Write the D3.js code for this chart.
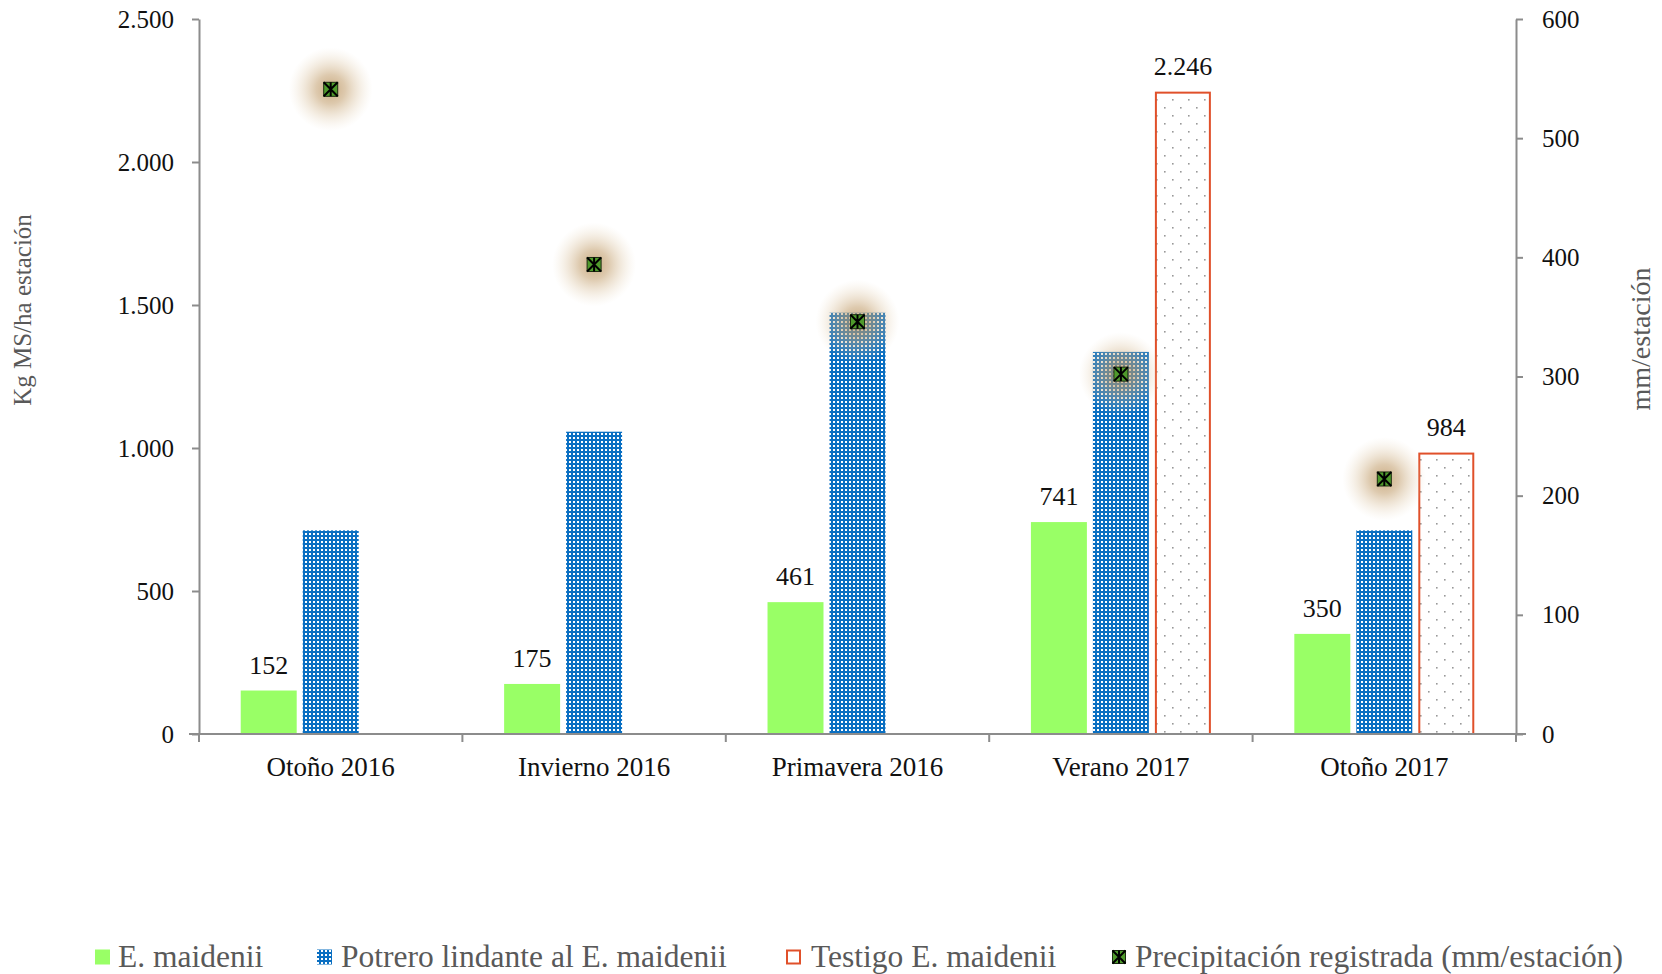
<!DOCTYPE html>
<html>
<head>
<meta charset="utf-8">
<script src="https://cdn.jsdelivr.net/npm/d3@7"></script>
<style>
  html, body { margin: 0; padding: 0; background: #fff; }
  svg { display: block; font-family: "Liberation Serif", "DejaVu Serif", serif; font-variant-numeric: oldstyle-nums; }
</style>
</head>
<body>
<svg id="chart" width="1662" height="974"></svg>
<script>
// Seasons on the x axis
const categories = ["Otoño 2016", "Invierno 2016", "Primavera 2016", "Verano 2017", "Otoño 2017"];
// Forage production (Kg MS/ha per season)
const maidenii = [152, 175, 461, 741, 350];
const potrero = [712, 1057, 1473, 1336, 712];
const testigo = [null, null, null, 2246, 984];
// Rainfall per season (mm), right axis
const precipitacion = [541, 394, 346, 302, 214];
// Axis ticks
const leftTicks = [0, 500, 1000, 1500, 2000, 2500];
const rightTicks = [0, 100, 200, 300, 400, 500, 600];
const seriesNames = ["E. maidenii", "Potrero lindante al E. maidenii", "Testigo E. maidenii", "Precipitación registrada (mm/estación)"];

const esLocale = d3.formatLocale({ decimal: ",", thousands: ".", grouping: [3], currency: ["", ""] });
const fmt = esLocale.format(",d");

const svg = d3.select("#chart");
const defs = svg.append("defs");

// Blue bar: blue with a grid of small white squares
const pBlue = defs.append("pattern").attr("id", "pBlue").attr("patternUnits", "userSpaceOnUse")
  .attr("width", 4).attr("height", 4);
pBlue.append("rect").attr("width", 4).attr("height", 4).attr("fill", "#0a6fc2");
pBlue.append("rect").attr("x", 1).attr("y", 1).attr("width", 2).attr("height", 2).attr("fill", "#ffffff");

// Control bar: white with a sparse staggered grid of grey dots
const pDots = defs.append("pattern").attr("id", "pDots").attr("patternUnits", "userSpaceOnUse")
  .attr("width", 16).attr("height", 16);
pDots.append("rect").attr("width", 16).attr("height", 16).attr("fill", "#ffffff");
pDots.append("rect").attr("x", 4).attr("y", 3).attr("width", 1.6).attr("height", 1.6).attr("fill", "#999");
pDots.append("rect").attr("x", 12).attr("y", 11).attr("width", 1.6).attr("height", 1.6).attr("fill", "#999");

// Soft tan glow behind the rainfall markers
const glow = defs.append("radialGradient").attr("id", "glow");
glow.append("stop").attr("offset", "0%").attr("stop-color", "#b88e58").attr("stop-opacity", 0.75);
glow.append("stop").attr("offset", "35%").attr("stop-color", "#c29e6c").attr("stop-opacity", 0.55);
glow.append("stop").attr("offset", "70%").attr("stop-color", "#d6bb93").attr("stop-opacity", 0.25);
glow.append("stop").attr("offset", "100%").attr("stop-color", "#e6d5b8").attr("stop-opacity", 0);

const plot = { left: 199, right: 1516, top: 19, bottom: 734 };

const x = d3.scaleBand().domain(categories).range([plot.left, plot.right]).paddingInner(0).paddingOuter(0);
const inner = d3.scaleBand().domain([0, 1, 2]).range([0, x.bandwidth()]).paddingInner(0.097).paddingOuter(0.673);
const y = d3.scaleLinear().domain([0, 2500]).range([plot.bottom, plot.top]);
const y2 = d3.scaleLinear().domain([0, 600]).range([plot.bottom, plot.top]);

const axisColor = "#8c8c8c";

// Left axis
const gl = svg.append("g").attr("transform", `translate(${plot.left},0)`)
  .call(d3.axisLeft(y).tickValues(leftTicks).tickFormat(fmt).tickSize(7).tickSizeOuter(0).tickPadding(18));
// Right axis
const gr = svg.append("g").attr("transform", `translate(${plot.right},0)`)
  .call(d3.axisRight(y2).tickValues(rightTicks).tickFormat(d3.format("d")).tickSize(7).tickSizeOuter(0).tickPadding(19));
[gl, gr].forEach(g => {
  g.select(".domain").attr("stroke", axisColor).attr("stroke-width", 2);
  g.selectAll(".tick line").attr("stroke", axisColor).attr("stroke-width", 2);
  g.selectAll(".tick text").attr("fill", "#111").style("font-size", "25px").style("font-family", "'Liberation Serif', serif");
});

// Bars
const bars = svg.append("g");
const series = [
  { data: maidenii, fill: "#99ff66", stroke: "none" },
  { data: potrero, fill: "url(#pBlue)", stroke: "none" },
  { data: testigo, fill: "url(#pDots)", stroke: "#e0502a" }
];
series.forEach((s, si) => {
  bars.selectAll(null).data(categories.map((c, i) => ({ c, v: s.data[i] })).filter(d => d.v != null))
    .join("rect")
    .attr("x", d => x(d.c) + inner(si) + (s.stroke === "none" ? 0 : 1))
    .attr("y", d => y(d.v) + (s.stroke === "none" ? 0 : 1))
    .attr("width", inner.bandwidth() - (s.stroke === "none" ? 0 : 2))
    .attr("height", d => y(0) - y(d.v) - (s.stroke === "none" ? 0 : 1))
    .attr("fill", s.fill)
    .attr("stroke", s.stroke)
    .attr("stroke-width", 2);
});

// X axis (drawn over bar bottoms)
const gx = svg.append("g").attr("transform", `translate(0,${plot.bottom})`);
gx.append("line").attr("x1", plot.left - 10).attr("x2", plot.right + 10).attr("stroke", axisColor).attr("stroke-width", 2);
gx.selectAll(".sep").data(d3.range(categories.length + 1)).join("line")
  .attr("x1", i => plot.left + i * x.step()).attr("x2", i => plot.left + i * x.step())
  .attr("y1", 0).attr("y2", 8).attr("stroke", axisColor).attr("stroke-width", 2);
gx.selectAll(".cat").data(categories).join("text")
  .attr("x", d => x(d) + x.bandwidth() / 2).attr("y", 42)
  .attr("text-anchor", "middle").attr("fill", "#111").style("font-size", "27px")
  .text(d => d);

// Value labels for E. maidenii and control bars
const labels = svg.append("g").attr("fill", "#111").style("font-size", "26px").attr("text-anchor", "middle");
[0, 2].forEach(si => {
  labels.selectAll(null).data(categories.map((c, i) => ({ c, v: series[si].data[i] })).filter(d => d.v != null))
    .join("text")
    .attr("x", d => x(d.c) + inner(si) + inner.bandwidth() / 2)
    .attr("y", d => y(d.v) - 17)
    .text(d => fmt(d.v));
});

// Rainfall markers: square with an x and a vertical stroke
function marker(g, size) {
  const h = size / 2;
  g.append("rect").attr("x", -h).attr("y", -h).attr("width", size).attr("height", size)
    .attr("fill", "#4f9a2c").attr("stroke", "#1a2a10").attr("stroke-width", 1);
  g.append("path").attr("d", `M${-h},${-h}L${h},${h}M${h},${-h}L${-h},${h}M0,${-h}L0,${h}`)
    .attr("stroke", "#000").attr("stroke-width", 2);
}
const pts = svg.append("g");
categories.forEach((c, i) => {
  const g = pts.append("g").attr("transform", `translate(${x(c) + x.bandwidth() / 2},${y2(precipitacion[i])})`);
  g.append("circle").attr("r", 42).attr("fill", "url(#glow)");
  marker(g, 14);
});

// Axis titles
svg.append("text").attr("transform", `translate(31,310) rotate(-90)`)
  .attr("text-anchor", "middle").attr("fill", "#595959").style("font-size", "25px").text("Kg MS/ha estación");
svg.append("text").attr("transform", `translate(1650,339) rotate(-90)`)
  .attr("text-anchor", "middle").attr("fill", "#595959").style("font-size", "28px").text("mm/estación");

// Legend
const legend = svg.append("g").attr("transform", "translate(0,957)");
const legendItems = [
  { x: 95, tx: 118, type: "green" },
  { x: 317, tx: 341, type: "blue" },
  { x: 786, tx: 811, type: "dots" },
  { x: 1112, tx: 1135, type: "marker" }
];
legendItems.forEach((it, i) => {
  const sw = 15;
  if (it.type === "green") {
    legend.append("rect").attr("x", it.x).attr("y", -sw / 2).attr("width", sw).attr("height", sw).attr("fill", "#99ff66");
  } else if (it.type === "blue") {
    legend.append("rect").attr("x", it.x).attr("y", -sw / 2).attr("width", sw).attr("height", sw).attr("fill", "url(#pBlue)");
  } else if (it.type === "dots") {
    legend.append("rect").attr("x", it.x + 1).attr("y", -sw / 2 + 1).attr("width", sw - 2).attr("height", sw - 2)
      .attr("fill", "#fff").attr("stroke", "#e0502a").attr("stroke-width", 2);
  } else {
    marker(legend.append("g").attr("transform", `translate(${it.x + 7},0)`), 13);
  }
  legend.append("text").attr("x", it.tx).attr("y", 10).attr("fill", "#595959")
    .style("font-size", "31.5px").text(seriesNames[i]);
});
</script>
</body>
</html>
